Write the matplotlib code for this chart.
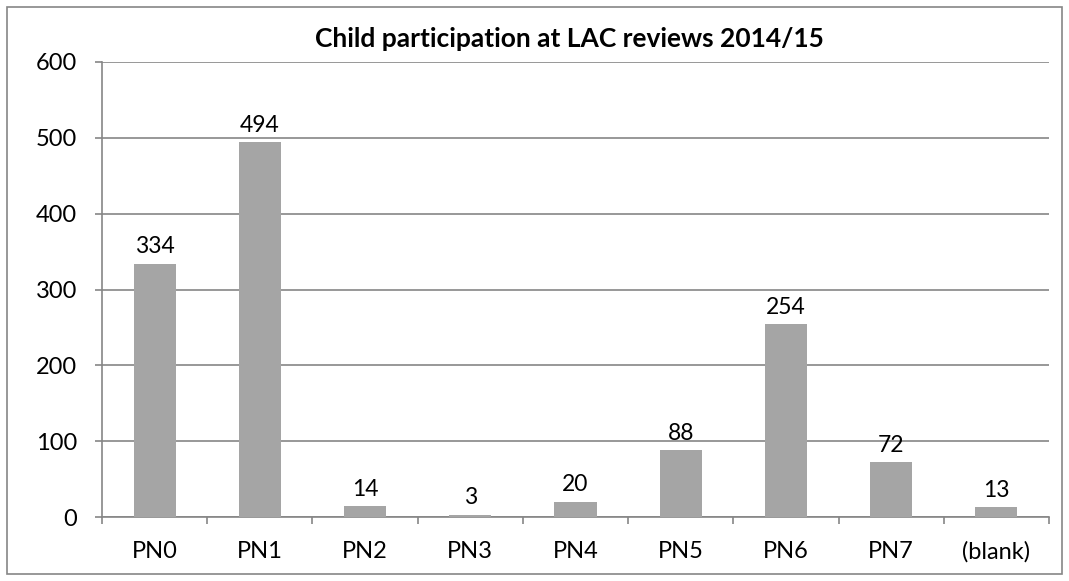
import matplotlib
matplotlib.use("Agg")
import matplotlib.pyplot as plt
from matplotlib.patches import Rectangle

categories = ["PN0", "PN1", "PN2", "PN3", "PN4", "PN5", "PN6", "PN7", "(blank)"]
values = [334, 494, 14, 3, 20, 88, 254, 72, 13]
yticks = [0, 100, 200, 300, 400, 500, 600]
title = "Child participation at LAC reviews 2014/15"

W, H = 1069, 581
fig = plt.figure(figsize=(W / 100, H / 100), dpi=100)
plt.rcParams['font.family'] = ['Lato', 'DejaVu Sans']
FS = 17

# outer chart border
fig.patches.append(Rectangle((7 / W, 7 / H), (1062 - 7) / W, (574 - 7) / H,
                             transform=fig.transFigure, fill=False,
                             edgecolor="#868686", linewidth=1.2))

left, right, top, bottom = 102, 1049, 62, 517
ax = fig.add_axes([left / W, 1 - bottom / H, (right - left) / W, (bottom - top) / H])

x = list(range(len(categories)))
ax.bar(x, values, width=0.4, color="#A5A5A5", zorder=3)
for xi, v in zip(x, values):
    ax.annotate(str(v), (xi, v), xytext=(0, 7.5), textcoords="offset points",
                ha="center", va="baseline", fontsize=16.5, color="#000000", zorder=4)

ax.set_xlim(-0.5, len(categories) - 0.5)
ax.set_ylim(0, 600)
ax.set_yticks(yticks)
ax.set_yticklabels([str(t) for t in yticks], fontsize=FS)
ax.yaxis.grid(True, color="#868686", linewidth=1.2, zorder=0)
ax.set_axisbelow(True)

ax.set_xticks(x)
ax.set_xticklabels(categories, fontsize=FS)
ax.tick_params(axis="x", which="major", length=0, pad=17)
ax.set_xticks([i - 0.5 for i in range(len(categories) + 1)], minor=True)
ax.tick_params(axis="x", which="minor", length=5, color="#868686", width=1.2, direction="out")
ax.tick_params(axis="y", length=5, color="#868686", width=1.2, pad=13)

for s in ["top", "right"]:
    ax.spines[s].set_visible(False)
for s in ["left", "bottom"]:
    ax.spines[s].set_color("#868686")
    ax.spines[s].set_linewidth(1.2)

fig.text(569 / W, 1 - 47 / H, title, ha="center", va="baseline",
         fontsize=19, fontweight="bold")

fig.savefig("out.png", dpi=100)
